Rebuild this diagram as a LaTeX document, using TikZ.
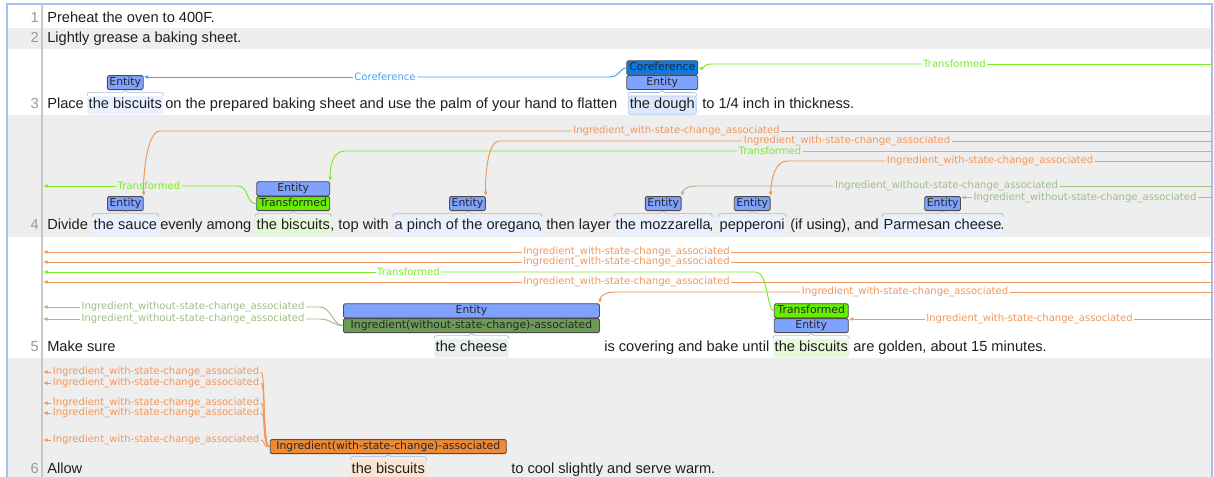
\documentclass[tikz,border=0pt]{standalone}
\usepackage{fontspec}
\setmainfont{Liberation Sans}
\newfontfamily\labelfont{DejaVu Sans}
\usetikzlibrary{arrows.meta, positioning, calc}
\newdimen\pxu \pxu=0.025cm
\definecolor{rowgray}{HTML}{EEEEEE}
\definecolor{framecol}{HTML}{A7BEF5}
\definecolor{sepcol}{HTML}{C8C8C8}
\definecolor{entblue}{HTML}{7FA2FF}
\definecolor{corefbox}{HTML}{0A7AE6}
\definecolor{transbox}{HTML}{66EE00}
\definecolor{olivebox}{HTML}{6E9A58}
\definecolor{orangebox}{HTML}{EF8A33}
\definecolor{corefline}{HTML}{4AA0F5}
\definecolor{transline}{HTML}{7CEB2A}
\definecolor{ingwline}{HTML}{F0985C}
\definecolor{ingwoline}{HTML}{9CBF86}
\definecolor{spanedge}{HTML}{A8B8D8}
\definecolor{hiblue}{HTML}{E9F0FF}
\definecolor{higreen}{HTML}{E6F8DA}
\definecolor{hiorange}{HTML}{FBE5D2}
\definecolor{hicheese}{HTML}{E9F0EC}
\definecolor{doughfill}{HTML}{DDE8FB}
\definecolor{doughedge}{HTML}{A9C8F2}
\tikzset{
  txt/.style={anchor=base west, inner sep=0pt, font=\fontsize{10.4}{12}\selectfont, text=black!88},
  lnum/.style={anchor=base east, inner sep=0pt, font=\fontsize{10.4}{12}\selectfont, text=black!40},
  spantxt/.style={txt, inner xsep=1pt, inner ysep=1.5pt, text height=7.8pt, text depth=2.3pt, rounded corners=1.5pt},
  tbox/.style={rectangle, draw=black!70, line width=0.6pt, rounded corners=1pt, inner xsep=1.5pt, inner ysep=0pt,
    text height=6pt, text depth=1.6pt, minimum height=14\pxu, font=\labelfont\fontsize{7.7}{8}\selectfont, text=black!85},
  entity/.style={tbox, fill=entblue},
  coref/.style={tbox, fill=corefbox},
  transf/.style={tbox, fill=transbox},
  ingwo/.style={tbox, fill=olivebox},
  ingw/.style={tbox, fill=orangebox},
  arcline/.style={line width=0.7pt},
  arcto/.style={-{Latex[length=3.2pt,width=2.8pt]}},
  corefarc/.style={arcline, draw=corefline},
  transarc/.style={arcline, draw=transline},
  ingwarc/.style={arcline, draw=ingwline},
  ingwoarc/.style={arcline, draw=ingwoline},
  alab/.style={inner xsep=1pt, inner ysep=0pt, font=\labelfont\fontsize{7.15}{8}\selectfont},
  coreflab/.style={alab, text=corefline},
  translab/.style={alab, text=transline},
  ingwlab/.style={alab, text=ingwline},
  ingwolab/.style={alab, text=ingwoline},
  spanline/.style={draw=spanedge, line width=0.5pt}
}
\newcommand\spanmark[1]{%
  \draw[spanline] (#1.north west) .. controls +(0,-3) and +(-3,0) .. ($(#1.north west)+(4,-3)$)
    -- ($(#1.north)+(-3,-3)$) -- ($(#1.north)+(0,-5)$) -- ($(#1.north)+(3,-3)$)
    -- ($(#1.north east)+(-4,-3)$) .. controls +(3,0) and +(0,-3) .. (#1.north east);}

\begin{document}
\begin{tikzpicture}[x=0.025cm, y=-0.025cm]
\useasboundingbox (0,0) rectangle (1214,477);

% rows and frame
\fill[white] (0,0) rectangle (1214,477);
\fill[rowgray] (7,28.5) rectangle (1212,49);
\fill[rowgray] (7,115) rectangle (1212,237);
\fill[rowgray] (7,358) rectangle (1212,477);
\draw[framecol, line width=0.8pt] (7,477) -- (7,4) -- (1212,4) -- (1212,477);
\draw[sepcol, line width=1pt] (42,4) -- (42,477);

% line numbers
\node[lnum] (n1) at (39,22.5) {1};
\node[lnum] (n2) at (39,43) {2};
\node[lnum] (n3) at (39,109) {3};
\node[lnum] (n4) at (39,230) {4};
\node[lnum] (n5) at (39,352) {5};
\node[lnum] (n6) at (39,473) {6};

% sentences 1 and 2
\node[txt] (s1) at (47,22.5) {Preheat the oven to 400F.};
\node[txt] (s2) at (47,43) {Lightly grease a baking sheet.};

% sentence 3
\node[txt] (w3a) at (47,109) {Place};
\node[spantxt, fill=hiblue] (sp3a) at (87,109) {the biscuits};
\node[txt] (w3b) at (165,109) {on the prepared baking sheet and use the palm of your hand to flatten};
\node[spantxt, fill=doughfill, draw=doughedge, line width=0.5pt] (sp3b) at (628,109) {the dough};
\node[txt] (w3c) at (702,109) {to 1/4 inch in thickness.};
\node[entity, above=4pt of sp3a] (e3a) {Entity};
\node[entity, minimum width=71\pxu, above=4pt of sp3b] (e3b) {Entity};
\node[coref, minimum width=71\pxu, above=0pt of e3b] (c3b) {Coreference};
\spanmark{sp3a}
\spanmark{sp3b}

\node[coreflab] (lc3) at (385,77) {Coreference};
\node[translab] (lt3) at (954.5,64) {Transformed};
\coordinate (rt3) at (1212,64);

\draw[corefarc] (c3b.west) .. controls (619,69) and (620,77) .. (609,77) -- (lc3.east);
\draw[corefarc, arcto] (lc3.west) -- (lc3 -| e3a.east);
\draw[transarc] (rt3) -- (lt3.east);
\draw[transarc, arcto] (lt3.west) -- (712,64) .. controls (703,64) and (704,69) .. (c3b.east);

% sentence 4
\node[txt] (w4a) at (47,230) {Divide};
\node[spantxt, fill=hiblue] (sp4a) at (92,230) {the sauce};
\node[txt] (w4b) at (160,230) {evenly among};
\node[spantxt, fill=higreen] (sp4b) at (255,230) {the biscuits};
\node[txt] (w4c) at (330,230) {, top with};
\node[spantxt, fill=hiblue] (sp4c) at (393,230) {a pinch of the oregano};
\node[txt] (w4d) at (538,230) {, then layer};
\node[spantxt, fill=hiblue] (sp4d) at (614,230) {the mozzarella};
\node[txt] (w4e) at (709,230) {,};
\node[spantxt, fill=hiblue] (sp4e) at (718,230) {pepperoni};
\node[txt] (w4f) at (790,230) {(if using), and};
\node[spantxt, fill=hiblue] (sp4f) at (882,230) {Parmesan cheese};
\node[txt] (w4g) at (1000,230) {.};
\node[entity, above=4pt of sp4a] (e4a) {Entity};
\node[transf, minimum width=73\pxu, above=4pt of sp4b] (t4b) {Transformed};
\node[entity, minimum width=73\pxu, above=0pt of t4b] (e4b) {Entity};
\node[entity, above=4pt of sp4c] (e4c) {Entity};
\node[entity, above=4pt of sp4d] (e4d) {Entity};
\node[entity, above=4pt of sp4e] (e4e) {Entity};
\node[entity, above=4pt of sp4f] (e4f) {Entity};
\foreach \s in {sp4a,sp4b,sp4c,sp4d,sp4e,sp4f} {\spanmark{\s}}

\node[ingwlab] (la4) at (676.5,131) {Ingredient\_with-state-change\_associated};
\node[ingwlab] (lb4) at (847,141) {Ingredient\_with-state-change\_associated};
\node[translab] (lc4) at (770,151) {Transformed};
\node[ingwlab] (ld4) at (990,161) {Ingredient\_with-state-change\_associated};
\node[ingwolab] (le4) at (946.5,186) {Ingredient\_without-state-change\_associated};
\node[ingwolab] (lf4) at (1085,197.5) {Ingredient\_without-state-change\_associated};
\node[translab] (lg4) at (149,186) {Transformed};
\coordinate (ra4) at (1212,131);
\coordinate (rb4) at (1212,141);
\coordinate (rc4) at (1212,151);
\coordinate (rd4) at (1212,161);
\coordinate (re4) at (1212,186);
\coordinate (rf4) at (1212,197.5);
\coordinate (lg4end) at (43,186);

\draw[ingwarc] (ra4) -- (la4.east);
\draw[ingwarc, arcto] (la4.west) -- (160,131) .. controls (147,131) and (143,175) .. (e4a.north east);
\draw[ingwarc] (rb4) -- (lb4.east);
\draw[ingwarc, arcto] (lb4.west) -- (499,141) .. controls (488,141) and (485,175) .. (e4c.north east);
\draw[transarc] (rc4) -- (lc4.east);
\draw[transarc, arcto] (lc4.west) -- (345,151) .. controls (333,151) and (330,165) .. (e4b.north east);
\draw[ingwarc] (rd4) -- (ld4.east);
\draw[ingwarc, arcto] (ld4.west) -- (787,161) .. controls (775,161) and (771,180) .. (e4e.north east);
\draw[ingwoarc] (re4) -- (le4.east);
\draw[ingwoarc, arcto] (le4.west) -- (697,186) .. controls (686,186) and (683,190) .. (e4d.north east);
\draw[ingwoarc] (rf4) -- (lf4.east);
\draw[ingwoarc, arcto] (lf4.west) -- (lf4 -| e4f.east);
\draw[transarc] (t4b.west) .. controls (246,204.5) and (249,186) .. (238,186) -- (lg4.east);
\draw[transarc, arcto] (lg4.west) -- (lg4end);

% sentence 5
\node[txt] (w5a) at (47,352) {Make sure};
\node[spantxt, fill=hicheese] (sp5a) at (434,352) {the cheese};
\node[txt] (w5b) at (604,352) {is covering and bake until};
\node[spantxt, fill=higreen] (sp5b) at (773,352) {the biscuits};
\node[txt] (w5c) at (853,352) {are golden, about 15 minutes.};
\node[ingwo, minimum width=256\pxu, above=4pt of sp5a] (i5a) {Ingredient(without-state-change)-associated};
\node[entity, minimum width=256\pxu, above=0pt of i5a] (e5a) {Entity};
\node[entity, minimum width=74\pxu, above=4pt of sp5b] (e5c) {Entity};
\node[transf, minimum width=74\pxu, above=0pt of e5c] (t5b) {Transformed};
\spanmark{sp5a}
\spanmark{sp5b}

\node[ingwlab] (la5) at (626.5,252) {Ingredient\_with-state-change\_associated};
\node[ingwlab] (lb5) at (626.5,262) {Ingredient\_with-state-change\_associated};
\node[translab] (lc5) at (408.5,272) {Transformed};
\node[ingwlab] (ld5) at (626.5,282) {Ingredient\_with-state-change\_associated};
\node[ingwlab] (le5) at (905,292) {Ingredient\_with-state-change\_associated};
\node[ingwolab] (lf5) at (193,307) {Ingredient\_without-state-change\_associated};
\node[ingwolab] (lg5) at (193,319) {Ingredient\_without-state-change\_associated};
\node[ingwlab] (lh5) at (1029.5,319) {Ingredient\_with-state-change\_associated};
\coordinate (ra5) at (1212,252);
\coordinate (rb5) at (1212,262);
\coordinate (rd5) at (1212,282);
\coordinate (re5) at (1212,292);
\coordinate (rh5) at (1212,319);
\coordinate (la5end) at (43,252);
\coordinate (lb5end) at (43,262);
\coordinate (lc5end) at (43,272);
\coordinate (ld5end) at (43,282);
\coordinate (lf5end) at (43,307);
\coordinate (lg5end) at (43,319);

\draw[ingwarc] (ra5) -- (la5.east);
\draw[ingwarc, arcto] (la5.west) -- (la5end);
\draw[ingwarc] (rb5) -- (lb5.east);
\draw[ingwarc, arcto] (lb5.west) -- (lb5end);
\draw[ingwarc] (rd5) -- (ld5.east);
\draw[ingwarc, arcto] (ld5.west) -- (ld5end);
\draw[transarc] (t5b.west) .. controls (767,311) and (768,272) .. (756,272) -- (lc5.east);
\draw[transarc, arcto] (lc5.west) -- (lc5end);
\draw[ingwarc] (re5) -- (le5.east);
\draw[ingwarc, arcto] (le5.west) -- (615,292) .. controls (604,292) and (600,297) .. (e5a.north east);
\draw[ingwoarc] (i5a.west) .. controls (333,325.5) and (331,307) .. (320,307) -- (lf5.east);
\draw[ingwoarc, arcto] (lf5.west) -- (lf5end);
\draw[ingwoarc] (i5a.west) .. controls (333,325.5) and (331,319) .. (320,319) -- (lg5.east);
\draw[ingwoarc, arcto] (lg5.west) -- (lg5end);
\draw[ingwarc] (rh5) -- (lh5.east);
\draw[ingwarc, arcto] (lh5.west) -- (lh5 -| e5c.east);

% sentence 6
\node[txt] (w6a) at (47,473) {Allow};
\node[spantxt, fill=hiorange] (sp6a) at (350,473) {the biscuits};
\node[txt] (w6b) at (511,473) {to cool slightly and serve warm.};
\node[ingw, minimum width=236\pxu, above=4pt of sp6a] (i6a) {Ingredient(with-state-change)-associated};
\spanmark{sp6a}

\foreach \y [count=\i] in {372,383,403,413,440} {
  \node[ingwlab] (l6\i) at (156,\y) {Ingredient\_with-state-change\_associated};
  \coordinate (l6end\i) at (43,\y);
  \draw[ingwarc] (l6\i.east) .. controls (266,\y) and (262,448) .. (i6a.west);
  \draw[ingwarc, arcto] (l6\i.west) -- (l6end\i);
}

\end{tikzpicture}
\end{document}
